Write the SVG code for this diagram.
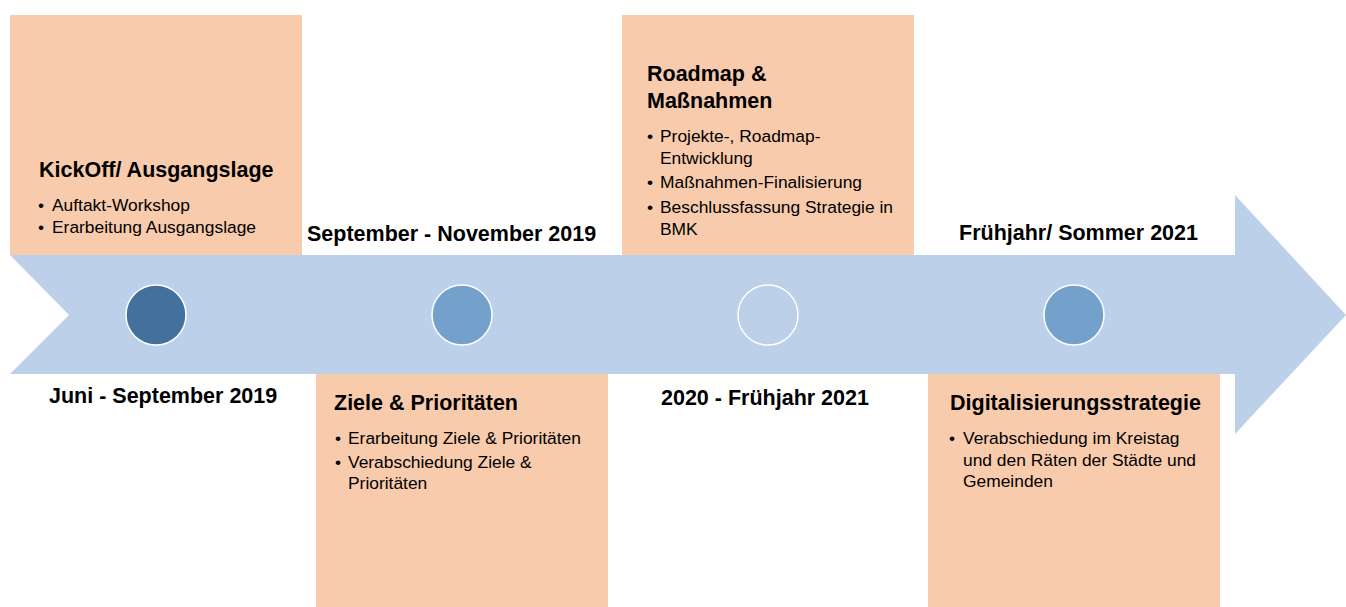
<svg xmlns="http://www.w3.org/2000/svg" width="1346" height="607" viewBox="0 0 1346 607">
<style>
.box{fill:#F8CBAD}
.title{font-family:"Liberation Sans",Arial,sans-serif;font-weight:bold;font-size:21.5px;fill:#000}
.date{font-family:"Liberation Sans",Arial,sans-serif;font-weight:bold;font-size:21.5px;fill:#000}
.body{font-family:"Liberation Sans",Arial,sans-serif;font-size:17.4px;fill:#000}
.dot{stroke:#fff;stroke-width:1.5}
</style>
<rect width="1346" height="607" fill="#fff"/>
<g id="timeline-arrow">
<polygon points="10,255 1235,255 1235,195 1346,315 1235,434 1235,374 10,374 69,315" fill="#BDD0E9"/>
</g>
<g id="phase1">
<rect class="box" x="10" y="15" width="292" height="240"/>
<text class="title" x="39" y="177">KickOff/ Ausgangslage</text>
<text class="body" x="38" y="211">•</text><text class="body" x="52" y="211">Auftakt-Workshop</text>
<text class="body" x="38" y="233">•</text><text class="body" x="52" y="233">Erarbeitung Ausgangslage</text>
<circle class="dot" cx="156" cy="315" r="30" fill="#43709C"/>
<text class="date" x="49" y="403">Juni - September 2019</text>
</g>
<g id="phase2">
<rect class="box" x="316" y="374" width="292" height="233"/>
<text class="title" x="334" y="410">Ziele &amp; Prioritäten</text>
<text class="body" x="335" y="444">•</text><text class="body" x="348" y="444">Erarbeitung Ziele &amp; Prioritäten</text>
<text class="body" x="335" y="468">•</text><text class="body" x="348" y="468">Verabschiedung Ziele &amp;</text>
<text class="body" x="348" y="489">Prioritäten</text>
<circle class="dot" cx="462" cy="315" r="30" fill="#74A0CC"/>
<text class="date" x="307" y="241">September - November 2019</text>
</g>
<g id="phase3">
<rect class="box" x="622" y="15" width="292" height="240"/>
<text class="title" x="647" y="81">Roadmap &amp;</text>
<text class="title" x="647" y="108">Maßnahmen</text>
<text class="body" x="647" y="142">•</text><text class="body" x="660" y="142">Projekte-, Roadmap-</text>
<text class="body" x="660" y="164">Entwicklung</text>
<text class="body" x="647" y="188">•</text><text class="body" x="660" y="188">Maßnahmen-Finalisierung</text>
<text class="body" x="647" y="213">•</text><text class="body" x="660" y="213">Beschlussfassung Strategie in</text>
<text class="body" x="660" y="235">BMK</text>
<circle class="dot" cx="768" cy="315" r="30" fill="#BDD0E9"/>
<text class="date" x="661" y="405">2020 - Frühjahr 2021</text>
</g>
<g id="phase4">
<rect class="box" x="928" y="374" width="292" height="233"/>
<text class="title" x="950" y="410">Digitalisierungsstrategie</text>
<text class="body" x="949" y="444">•</text><text class="body" x="963" y="444">Verabschiedung im Kreistag</text>
<text class="body" x="963" y="466">und den Räten der Städte und</text>
<text class="body" x="963" y="487">Gemeinden</text>
<circle class="dot" cx="1074" cy="315" r="30" fill="#74A0CC"/>
<text class="date" x="959" y="240">Frühjahr/ Sommer 2021</text>
</g>
<g id="connectors"></g>
</svg>
